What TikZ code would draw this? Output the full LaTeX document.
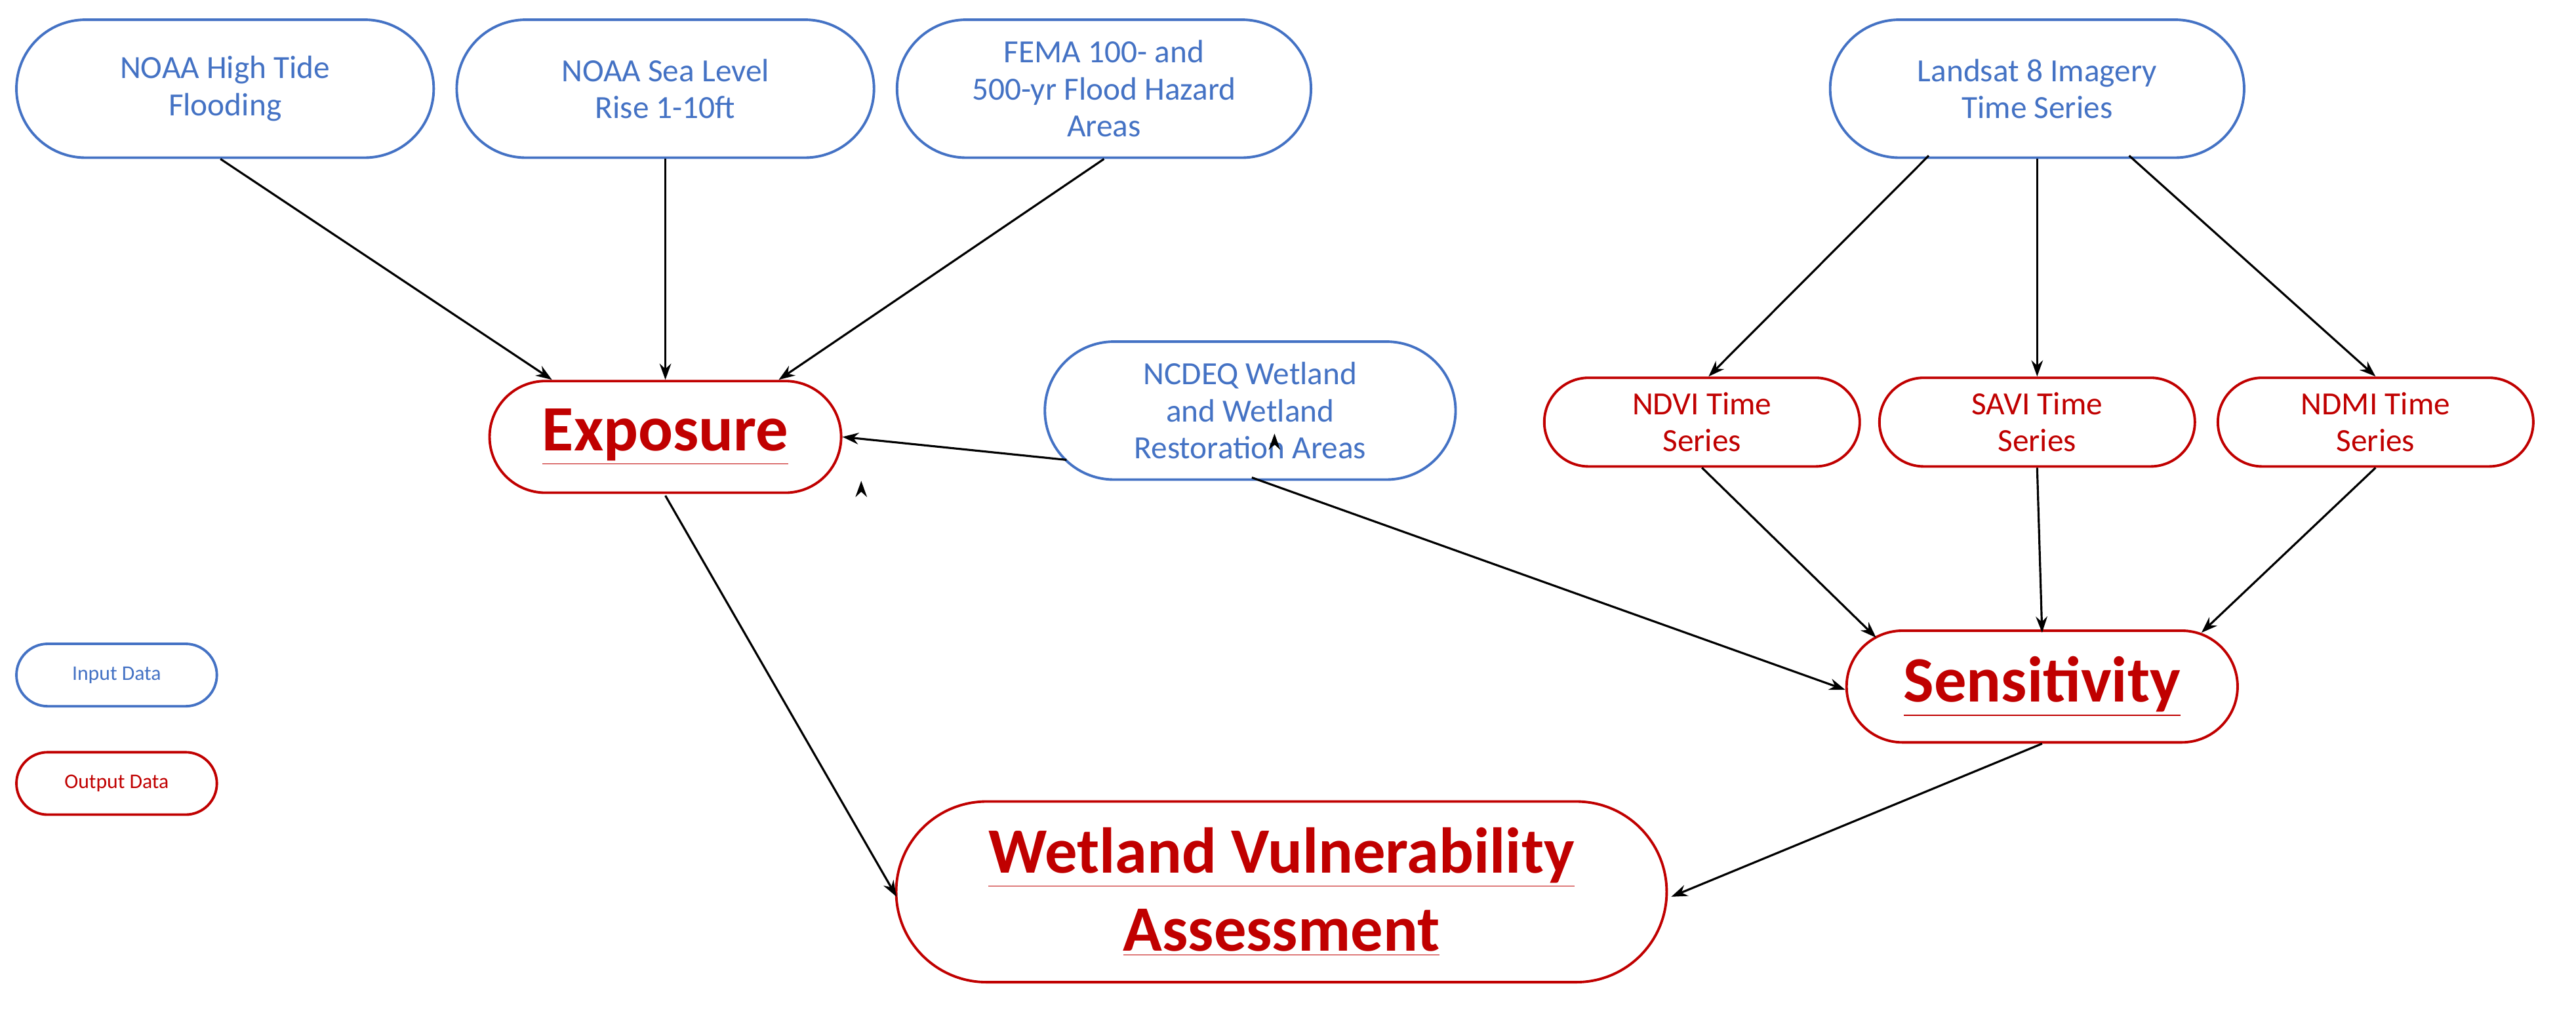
\documentclass[tikz,border=0pt]{standalone}
\usepackage{fontspec}
\setmainfont{Carlito}
\usetikzlibrary{arrows.meta}
\definecolor{inb}{HTML}{4472C4}
\definecolor{outr}{HTML}{C00000}
\begin{document}
\begin{tikzpicture}[x=0.025cm,y=-0.025cm,
 base/.style={draw,line width=1.1pt,align=center,inner sep=2pt,font=\fontsize{14}{16}\selectfont},
 inp/.style={base,draw=inb,text=inb},
 outp/.style={base,draw=outr,text=outr},
 big/.style={font=\fontsize{28}{34}\selectfont\bfseries},
 arr/.style={-{Stealth[length=7pt,width=5pt]},line width=0.9pt}]
\useasboundingbox (0,0) rectangle (1568,614);
\newcommand{\pill}[6]{% name,style,cx,cy,w,h
 \node[#2,minimum width=#5*0.025cm,minimum height=#6*0.025cm,rounded corners=#6*0.0125cm] (#1) at (#3,#4)}
\pill{ht}{inp}{137}{54}{254}{84}{NOAA High Tide\\Flooding};
\pill{sl}{inp}{405}{54}{254}{84}{NOAA Sea Level\\Rise 1-10ft};
\pill{fema}{inp}{672}{54}{252}{84}{FEMA 100- and\\500-yr Flood Hazard\\Areas};
\pill{ls}{inp}{1240}{54}{252}{84}{Landsat 8 Imagery\\Time Series};
\pill{nc}{inp}{761}{250}{250}{84}{NCDEQ Wetland\\and Wetland\\Restoration Areas};
\pill{ndvi}{outp}{1036}{257}{192}{54}{NDVI Time\\Series};
\pill{savi}{outp}{1240}{257}{192}{54}{SAVI Time\\Series};
\pill{ndmi}{outp}{1446}{257}{192}{54}{NDMI Time\\Series};
\pill{exp}{outp,big}{405}{266}{214}{68}{\underline{Exposure}};
\pill{sen}{outp,big}{1243}{418}{238}{68}{\underline{Sensitivity}};
\pill{wva}{outp,big}{780}{543}{469}{110}{\underline{Wetland Vulnerability}\\\underline{Assessment}};
\pill{lin}{inp,font=\fontsize{9}{11}\selectfont}{71}{411}{122}{38}{Input Data};
\pill{lout}{outp,font=\fontsize{9}{11}\selectfont}{71}{477}{122}{38}{Output Data};
\draw[arr] ([xshift=-2]ht.south) -- ([xshift=-69*0.025cm]exp.north);
\draw[arr] (sl.south) -- (exp.north);
\draw[arr] (fema.south) -- ([xshift=69*0.025cm]exp.north);
\draw[arr] ([xshift=-111*0.025cm,yshift=-14*0.025cm]nc.east) ++(0,0) coordinate (nca);
\draw[arr] ([xshift=-111*0.025cm]nc.south west) ++(0,0);
\draw[arr] ([xshift=14*0.025cm,yshift=-30*0.025cm]nc.west) -- (exp.east);
\draw[arr] ([xshift=1*0.025cm,yshift=2*0.025cm]nc.south) -- ([yshift=-2*0.025cm]sen.west);
\draw[arr] ([xshift=-66*0.025cm,yshift=2*0.025cm]ls.south) -- ([xshift=4*0.025cm]ndvi.north);
\draw[arr] (ls.south) -- (savi.north);
\draw[arr] ([xshift=56*0.025cm,yshift=2*0.025cm]ls.south) -- (ndmi.north);
\draw[arr] (ndvi.south) -- ([xshift=-101*0.025cm,yshift=-5*0.025cm]sen.north);
\draw[arr] (savi.south) -- ([yshift=-2*0.025cm]sen.north);
\draw[arr] (ndmi.south) -- ([xshift=97*0.025cm,yshift=-2*0.025cm]sen.north);
\draw[arr] ([yshift=-1*0.025cm]exp.south) -- ([xshift=1*0.025cm,yshift=-3*0.025cm]wva.west);
\draw[arr] (sen.south) -- ([xshift=2*0.025cm,yshift=-3*0.025cm]wva.east);
\end{tikzpicture}
\end{document}
